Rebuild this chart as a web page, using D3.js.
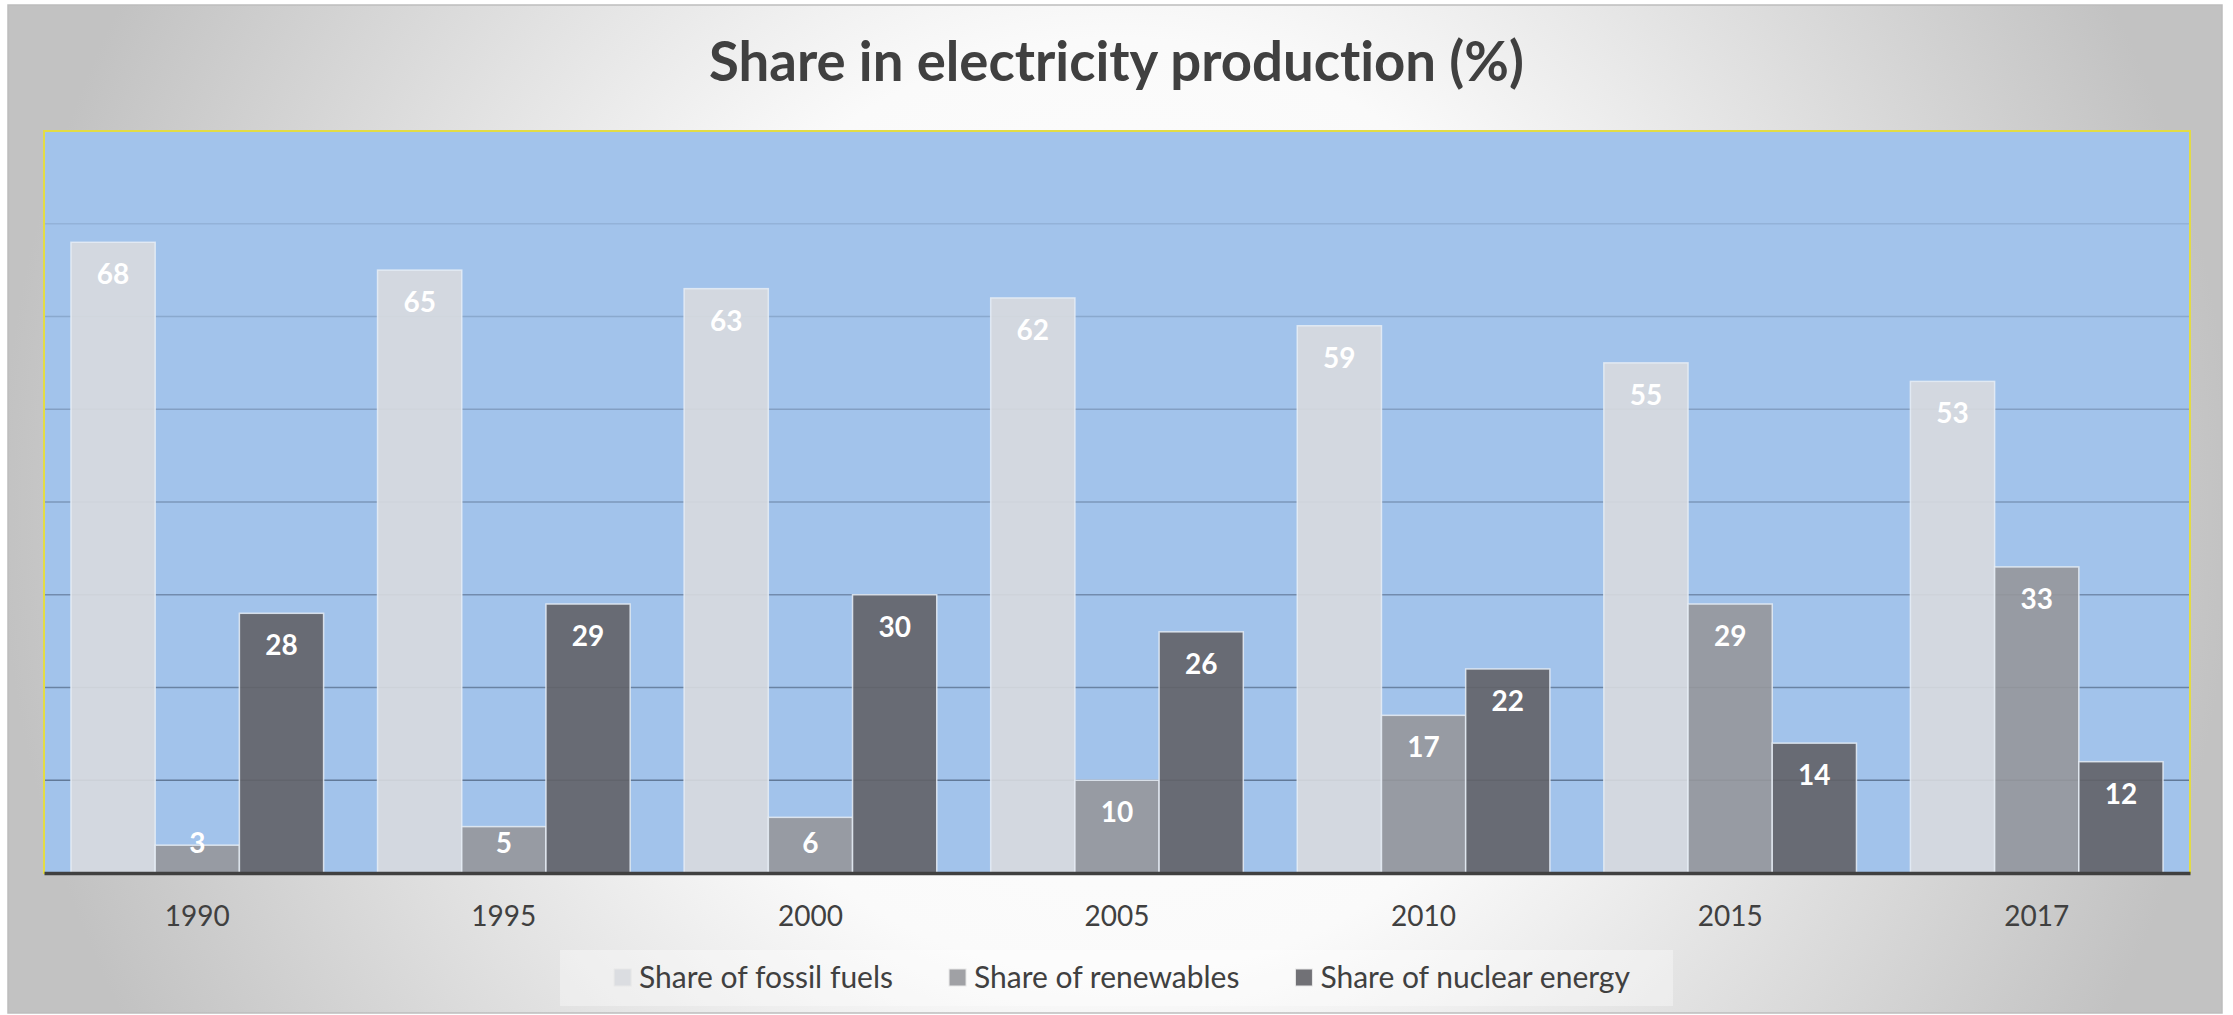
<!DOCTYPE html>
<html>
<head>
<meta charset="utf-8">
<script src="https://cdn.jsdelivr.net/npm/d3@7/dist/d3.min.js"></script>
<style>
  html, body { margin: 0; padding: 0; background: #ffffff; }
  svg { display: block; }
  text { font-family: Lato, "Open Sans", sans-serif; font-variant-ligatures: none; }
</style>
</head>
<body>
<svg id="chart" width="2233" height="1015"></svg>
<script>
// Share of each source in electricity production, percent
const categories = ["1990", "1995", "2000", "2005", "2010", "2015", "2017"];
const seriesNames = ["Share of fossil fuels", "Share of renewables", "Share of nuclear energy"];
const fossil = [68, 65, 63, 62, 59, 55, 53];
const renewables = [3, 5, 6, 10, 17, 29, 33];
const nuclear = [28, 29, 30, 26, 22, 14, 12];
const gridTicks = [10, 20, 30, 40, 50, 60, 70];
const titleText = "Share in electricity production (%)";

const seriesValues = [fossil, renewables, nuclear];
const seriesColors = ["#D8DADF", "#96979B", "#626267"];

const W = 2233, H = 1015;
const plot = { left: 44, right: 2190, top: 131, bottom: 873 };

const svg = d3.select("#chart");
const defs = svg.append("defs");

// Soft grey-to-white backdrop of the chart frame
const bg = defs.append("radialGradient")
  .attr("id", "frameFill")
  .attr("gradientUnits", "userSpaceOnUse")
  .attr("cx", W / 2).attr("cy", H / 2).attr("r", W / 2)
  .attr("fx", W / 2).attr("fy", H / 2);
bg.append("stop").attr("offset", "0").attr("stop-color", "#ffffff");
bg.append("stop").attr("offset", "0.42").attr("stop-color", "#fafafa");
bg.append("stop").attr("offset", "1").attr("stop-color", "#c2c2c2");

svg.append("rect")
  .attr("x", 8).attr("y", 5).attr("width", 2214).attr("height", 1008)
  .attr("fill", "url(#frameFill)")
  .attr("stroke", "#bdbdbd").attr("stroke-width", 1.5);

// Title
svg.append("text")
  .attr("x", W / 2).attr("y", 81)
  .attr("text-anchor", "middle")
  .attr("font-size", 54.5).attr("font-weight", 700)
  .attr("fill", "#404040")
  .text(titleText);

// Scales
const x0 = d3.scaleBand()
  .domain(categories)
  .range([plot.left, plot.right])
  .paddingInner(0.176)
  .paddingOuter(0.088);

const x1 = d3.scaleBand()
  .domain(seriesNames)
  .range([0, x0.bandwidth()])
  .padding(0);

const y = d3.scaleLinear().domain([0, 80]).range([plot.bottom, plot.top]);

// Plot area
svg.append("rect")
  .attr("x", plot.left).attr("y", plot.top)
  .attr("width", plot.right - plot.left).attr("height", plot.bottom - plot.top)
  .attr("fill", "#A2C3EB");

// Horizontal gridlines, fading towards the top
const gridOpacity = d3.scaleLinear().domain([10, 70]).range([0.55, 0.12]);
svg.append("g").selectAll("line")
  .data(gridTicks)
  .join("line")
  .attr("x1", plot.left).attr("x2", plot.right)
  .attr("y1", d => y(d)).attr("y2", d => y(d))
  .attr("stroke", "#2c3c54")
  .attr("stroke-opacity", d => gridOpacity(d))
  .attr("stroke-width", 1.5);

// Bars
const groups = svg.append("g").selectAll("g")
  .data(categories)
  .join("g")
  .attr("transform", d => `translate(${x0(d)},0)`);

groups.selectAll("rect")
  .data((c, i) => seriesNames.map((s, k) => ({ s, k, v: seriesValues[k][i] })))
  .join("rect")
  .attr("x", d => x1(d.s))
  .attr("width", x1.bandwidth())
  .attr("y", d => y(d.v))
  .attr("height", d => y(0) - y(d.v))
  .attr("fill", d => seriesColors[d.k])
  .attr("fill-opacity", 0.9)
  .attr("stroke", "#e6edf6")
  .attr("stroke-opacity", 0.85)
  .attr("stroke-width", 1.5);

// Value labels, placed just inside the top of each bar
groups.selectAll("text")
  .data((c, i) => seriesNames.map((s, k) => ({ s, k, v: seriesValues[k][i] })))
  .join("text")
  .attr("x", d => x1(d.s) + x1.bandwidth() / 2)
  .attr("y", d => Math.min(y(d.v) + 42, y(0) - 20))
  .attr("text-anchor", "middle")
  .attr("font-size", 28).attr("font-weight", 700)
  .attr("fill", "#ffffff")
  .text(d => d.v);

// Plot frame
svg.append("rect")
  .attr("x", plot.left).attr("y", plot.top)
  .attr("width", plot.right - plot.left).attr("height", plot.bottom - plot.top)
  .attr("fill", "none")
  .attr("stroke", "#e3dc45").attr("stroke-width", 2);

// Category axis
const xAxis = svg.append("g")
  .attr("transform", `translate(0,${plot.bottom})`)
  .call(d3.axisBottom(x0).tickSize(0).tickSizeOuter(0).tickPadding(0));
xAxis.select(".domain")
  .attr("stroke", "#404040").attr("stroke-width", 3.5);
xAxis.selectAll("text")
  .attr("dy", null)
  .attr("y", 53)
  .attr("font-size", 28)
  .attr("font-family", "Lato, 'Open Sans', sans-serif")
  .attr("fill", "#404040");

// Legend
const legend = svg.append("g");
legend.append("rect")
  .attr("x", 560).attr("y", 950).attr("width", 1113).attr("height", 56)
  .attr("fill", "#ffffff").attr("fill-opacity", 0.35);

const items = legend.append("g");
let cursor = 0;
seriesNames.forEach((name, k) => {
  const g = items.append("g").attr("transform", `translate(${cursor},0)`);
  g.append("rect")
    .attr("x", 0).attr("y", 969).attr("width", 17).attr("height", 17)
    .attr("fill", seriesColors[k]).attr("fill-opacity", 0.9)
    .attr("stroke", "#e8e8e8").attr("stroke-width", 1);
  const t = g.append("text")
    .attr("x", 25).attr("y", 988)
    .attr("font-size", 30)
    .attr("fill", "#404040")
    .text(name);
  cursor += 25 + t.node().getComputedTextLength() + 56;
});
const contentWidth = cursor - 56;
items.attr("transform", `translate(${1122 - contentWidth / 2},0)`);
</script>
</body>
</html>
